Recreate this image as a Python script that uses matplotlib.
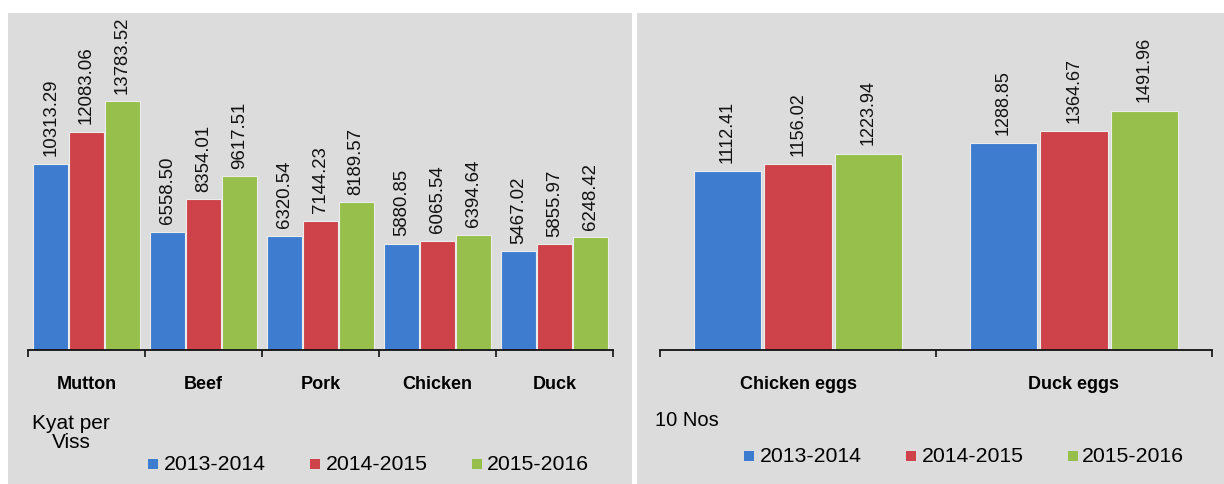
import matplotlib
matplotlib.use("Agg")
import matplotlib.pyplot as plt
from matplotlib.patches import Rectangle
import numpy as np

plt.rcParams['font.family'] = ['Liberation Sans', 'DejaVu Sans']

# ---------------- data ----------------
meat_categories = ['Mutton', 'Beef', 'Pork', 'Chicken', 'Duck']
meat_2013 = [10313.29, 6558.50, 6320.54, 5880.85, 5467.02]
meat_2014 = [12083.06, 8354.01, 7144.23, 6065.54, 5855.97]
meat_2015 = [13783.52, 9617.51, 8189.57, 6394.64, 6248.42]

egg_categories = ['Chicken eggs', 'Duck eggs']
egg_2013 = [1112.41, 1288.85]
egg_2014 = [1156.02, 1364.67]
egg_2015 = [1223.94, 1491.96]

series_labels = ['2013-2014', '2014-2015', '2015-2016']
meat_unit = 'Kyat per\nViss'
egg_unit = '10 Nos'

colors = ['#3d7cce', '#cd4349', '#97bf4b']
bg = '#dcdcdc'

W, H = 1224, 484
fig = plt.figure(figsize=(W / 100, H / 100), dpi=100)
fig.patch.set_facecolor('white')


def px_rect(x0, y0, x1, y1):
    return [x0 / W, 1 - y1 / H, (x1 - x0) / W, (y1 - y0) / H]


# panel backgrounds
for (x0, x1) in [(8, 632), (637, 1224)]:
    fig.patches.append(Rectangle((x0 / W, 0), (x1 - x0) / W, 1 - 13 / H,
                                 transform=fig.transFigure, facecolor=bg,
                                 edgecolor='none', zorder=-5))


def draw_panel(rect, cats, series, ymax, width, step, label_fs, gap):
    ax = fig.add_axes(rect, zorder=2)
    ax.set_facecolor('none')
    x = np.arange(len(cats))
    for i, vals in enumerate(series):
        pos = x + (i - 1) * step
        ax.bar(pos, vals, width, color=colors[i], edgecolor='#ececec',
               linewidth=0.8, zorder=2)
        for p, v in zip(pos, vals):
            ax.annotate(f'{v:.2f}', (p, v), xytext=(0, gap),
                        textcoords='offset points', rotation=90,
                        ha='center', va='bottom', fontsize=label_fs,
                        color='#111111', annotation_clip=False)
    ax.set_xlim(-0.5, len(cats) - 0.5)
    ax.set_ylim(0, ymax)
    for s in ['top', 'right', 'left']:
        ax.spines[s].set_visible(False)
    ax.spines['bottom'].set_linewidth(1.3)
    ax.spines['bottom'].set_color('#111111')
    ax.set_yticks([])
    ax.set_xticks(x)
    ax.set_xticklabels(cats, fontweight='bold', fontsize=13)
    ax.tick_params(axis='x', which='major', length=0, pad=18.5)
    ax.set_xticks(np.arange(-0.5, len(cats)), minor=True)
    ax.tick_params(axis='x', which='minor', length=5, width=1.2,
                   direction='out', color='#111111')
    return ax


draw_panel(px_rect(28, 13, 613, 350), meat_categories,
           [meat_2013, meat_2014, meat_2015], 337 * 55.4, 0.3, 0.305, 13.4, 5.5)
draw_panel(px_rect(660, 13, 1212, 350), egg_categories,
           [egg_2013, egg_2014, egg_2015], 337 * 6.23, 0.245, 0.255, 13, 6)

# unit labels
fig.text(71 / W, 1 - 433 / H, meat_unit, ha='center', va='center',
         fontsize=15, linespacing=1.05)
fig.text(655 / W, 1 - 420 / H, egg_unit, ha='left', va='center', fontsize=14.5)


# legends
def legend(xs_marker, xs_text, yc):
    for i in range(3):
        fig.patches.append(Rectangle((xs_marker[i] / W, 1 - (yc + 5) / H),
                                     10 / W, 10 / H, transform=fig.transFigure,
                                     facecolor=colors[i], edgecolor='none',
                                     zorder=3))
        fig.text(xs_text[i] / W, 1 - yc / H, series_labels[i], ha='left',
                 va='center', fontsize=15.3)


legend([148, 310, 472], [164, 326, 487], 464)
legend([744, 906, 1068], [760, 922, 1082], 456)

fig.savefig('out.png', dpi=100, facecolor='white')
